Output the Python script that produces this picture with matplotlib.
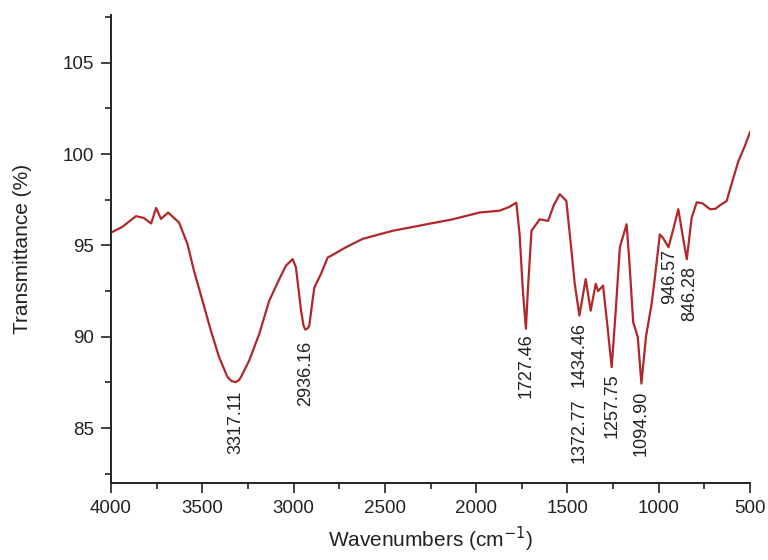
import matplotlib
matplotlib.use("Agg")
import matplotlib.pyplot as plt
from matplotlib.ticker import MultipleLocator

plt.rcParams['font.family'] = ['Liberation Sans', 'DejaVu Sans']

# FTIR spectrum: wavenumber (cm-1) and transmittance (%)
wavenumber = [
    4000, 3940, 3863, 3820, 3780, 3753, 3726, 3687, 3627, 3581, 3545, 3499,
    3453, 3408, 3362, 3340, 3317.11, 3300, 3288, 3243, 3188, 3133, 3078,
    3042, 3005, 2987, 2959, 2945, 2936.16, 2925, 2914, 2896, 2886, 2850,
    2813, 2795, 2713, 2621, 2457, 2300, 2128, 1981, 1871, 1820, 1780, 1762,
    1744, 1727.46, 1717, 1697, 1652, 1606, 1575, 1542, 1506, 1487, 1460,
    1434.46, 1400, 1372.77, 1345, 1332, 1305, 1280, 1257.75, 1235, 1213,
    1176, 1160, 1140, 1115, 1094.90, 1070, 1039, 1021, 994, 976, 946.57,
    920, 893, 870, 846.28, 820, 792, 760, 719, 690, 664, 628, 600, 564,
    530, 500,
]
transmittance = [
    95.7, 96.0, 96.6, 96.5, 96.2, 97.05, 96.45, 96.8, 96.25, 95.07, 93.6, 91.98,
    90.34, 88.89, 87.8, 87.58, 87.52, 87.62, 87.8, 88.7, 90.16, 91.98, 93.16,
    93.89, 94.25, 93.8, 91.43, 90.6, 90.4, 90.44, 90.6, 92.0, 92.7, 93.44,
    94.34, 94.43, 94.9, 95.36, 95.8, 96.1, 96.43, 96.8, 96.9, 97.1, 97.34, 95.6,
    92.5, 90.44, 92.5, 95.8, 96.43, 96.34, 97.2, 97.8, 97.43, 95.6, 92.9,
    91.16, 93.16, 91.43, 92.9, 92.5, 92.8, 90.5, 88.34, 91.5, 94.9,
    96.16, 94.0, 90.8, 90.0, 87.44, 90.0, 91.8, 93.25, 95.6, 95.4, 94.9,
    95.9, 96.98, 95.6, 94.25, 96.5, 97.36, 97.3, 96.98, 97.0, 97.2, 97.43,
    98.4, 99.6, 100.4, 101.2,
]

# Peak annotations: text, anchor wavenumber, top of the text in % units
peak_labels = ["3317.11", "2936.16", "1727.46", "1434.46", "1372.77",
               "1257.75", "1094.90", "946.57", "846.28"]
peak_x = [3317.11, 2936.16, 1727.46, 1434.46, 1434.46,
          1257.75, 1094.90, 939.0, 829.0]
peak_label_top = [87.05, 89.8, 90.18, 90.83, 86.64, 88.0, 87.07, 94.81, 93.89]

fig = plt.figure(figsize=(7.68, 5.6), dpi=100)
ax = fig.add_axes([0.1445, 0.1375, 0.8321, 0.8355])

ax.plot(wavenumber, transmittance, color='#b0282a', lw=1.6)

for lab, x, y in zip(peak_labels, peak_x, peak_label_top):
    ax.text(x, y, lab, rotation=90, ha='center', va='top', fontsize=13,
            color='#222222')

ax.set_xlim(4000, 500)
ax.set_ylim(82, 107.6)
ax.xaxis.set_major_locator(MultipleLocator(500))
ax.xaxis.set_minor_locator(MultipleLocator(250))
ax.yaxis.set_major_locator(MultipleLocator(5))
ax.yaxis.set_minor_locator(MultipleLocator(2.5))
ax.set_yticks([85, 90, 95, 100, 105])

for side in ('top', 'right'):
    ax.spines[side].set_visible(False)
for side in ('left', 'bottom'):
    ax.spines[side].set_linewidth(1.4)
    ax.spines[side].set_color('#222222')

ax.tick_params(which='major', direction='out', length=7, width=1.2,
               labelsize=13.5, pad=5, colors='#222222')
ax.tick_params(which='minor', direction='out', length=4, width=1.2,
               colors='#222222')

ax.set_xlabel('Wavenumbers (cm$^{-1}$)', fontsize=15, labelpad=6,
              color='#222222')
ax.set_ylabel('Transmittance (%)', fontsize=15, labelpad=22,
              color='#222222')

fig.savefig('out.png', dpi=100)
